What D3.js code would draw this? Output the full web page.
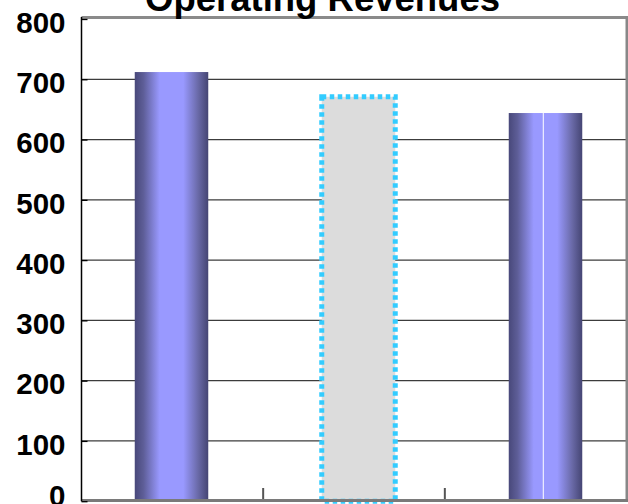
<!DOCTYPE html>
<html><head><meta charset="utf-8">
<script src="https://cdn.jsdelivr.net/npm/d3@7"></script>
<style>html,body{margin:0;padding:0;background:#fff;overflow:hidden}</style>
</head><body><svg id="chart" width="628" height="504"></svg>
<script>
// ---- data ----
const chartTitle = "Operating Revenues";
const categories = ["Year 1", "Year 2", "Year 3"];
const revenues = [712, 671, 644];
const yTicks = [0, 100, 200, 300, 400, 500, 600, 700, 800];
const projectedIndex = 1; // the outlined (estimated) bar

// ---- layout ----
const W = 628, H = 504;
const plot = {left: 81.5, right: 626.5, top: 19, bottom: 501.2};
const svg = d3.select("#chart");
const font = "'Liberation Sans', Arial, sans-serif";

const y = d3.scaleLinear().domain([0, 800]).range([plot.bottom, plot.top]);
const xBand = d3.scaleBand().domain(categories).range([plot.left, plot.right]);
const xBar = d3.scalePoint().domain(categories).range([171.5, 545.5]);
const barW = 73.5;

// gradient
const defs = svg.append("defs");
const grad = defs.append("linearGradient").attr("id", "cyl")
  .attr("x1", 0).attr("x2", 1).attr("y1", 0).attr("y2", 0);
[[0, "#48487a"], [0.12, "#5e5e98"], [0.34, "#9999ff"], [0.66, "#9999ff"], [0.86, "#6a6aa8"], [1, "#454573"]]
  .forEach(([o, c]) => grad.append("stop").attr("offset", o).attr("stop-color", c));

// gridlines
svg.append("g").selectAll("line")
  .data(yTicks.filter(d => d > 0 && d < 800))
  .join("line")
  .attr("x1", plot.left).attr("x2", plot.right)
  .attr("y1", d => y(d)).attr("y2", d => y(d))
  .attr("stroke", "#3c3c3c").attr("stroke-width", 1.3);

// frame: top and right
svg.append("line").attr("x1", plot.left).attr("x2", W).attr("y1", 17.5).attr("y2", 17.5)
  .attr("stroke", "#8a8a8a").attr("stroke-width", 3);
svg.append("line").attr("x1", 627).attr("x2", 627).attr("y1", 16).attr("y2", 502)
  .attr("stroke", "#888").attr("stroke-width", 3);

// bars
const bars = svg.append("g");
revenues.forEach((v, i) => {
  const cx = xBar(categories[i]);
  const x0 = cx - barW / 2;
  if (i === projectedIndex) {
    bars.append("rect")
      .attr("x", x0).attr("y", y(v)).attr("width", barW).attr("height", y(0) - y(v))
      .attr("fill", "#dcdcdc").attr("stroke", "#33ccff").attr("stroke-width", 5)
      .attr("stroke-dasharray", "4.5,3.5");
  } else {
    bars.append("rect")
      .attr("x", x0).attr("y", y(v)).attr("width", barW).attr("height", y(0) - y(v))
      .attr("fill", "url(#cyl)");
    if (i === 2) {
      bars.append("line")
        .attr("x1", x0 + barW * 0.47).attr("x2", x0 + barW * 0.47)
        .attr("y1", y(v)).attr("y2", y(0))
        .attr("stroke", "#fff").attr("stroke-width", 1);
    }
  }
});

// bottom axis line + category ticks
svg.append("line").attr("x1", plot.left).attr("x2", W).attr("y1", 500.5).attr("y2", 500.5)
  .attr("stroke", "#7a7a7a").attr("stroke-width", 3);
svg.append("g").selectAll("line")
  .data(categories.slice(1))
  .join("line")
  .attr("x1", d => xBand(d)).attr("x2", d => xBand(d))
  .attr("y1", 488).attr("y2", 499)
  .attr("stroke", "#555").attr("stroke-width", 2);

// left axis
const yAxis = d3.axisLeft(y).tickValues(yTicks).tickSizeInner(-6).tickSizeOuter(0).tickPadding(16);
const gy = svg.append("g").attr("transform", `translate(${plot.left},0)`).call(yAxis);
gy.select(".domain").attr("stroke", "#000").attr("stroke-width", 1.5)
  .attr("d", `M0,${plot.top - 2}V${plot.bottom}`);
gy.selectAll(".tick line").attr("stroke", "#000").attr("stroke-width", 1.3);
gy.selectAll(".tick text")
  .attr("font-family", font).attr("font-weight", "bold").attr("font-size", 29.5)
  .attr("fill", "#000")
  .attr("dy", d => d === 0 ? "0.16em" : "0.45em");

// title
svg.append("text").attr("x", 322.5).attr("y", 10.5)
  .attr("text-anchor", "middle")
  .attr("font-family", font).attr("font-weight", "bold").attr("font-size", 36.5)
  .attr("fill", "#000").text(chartTitle);
</script></body></html>
